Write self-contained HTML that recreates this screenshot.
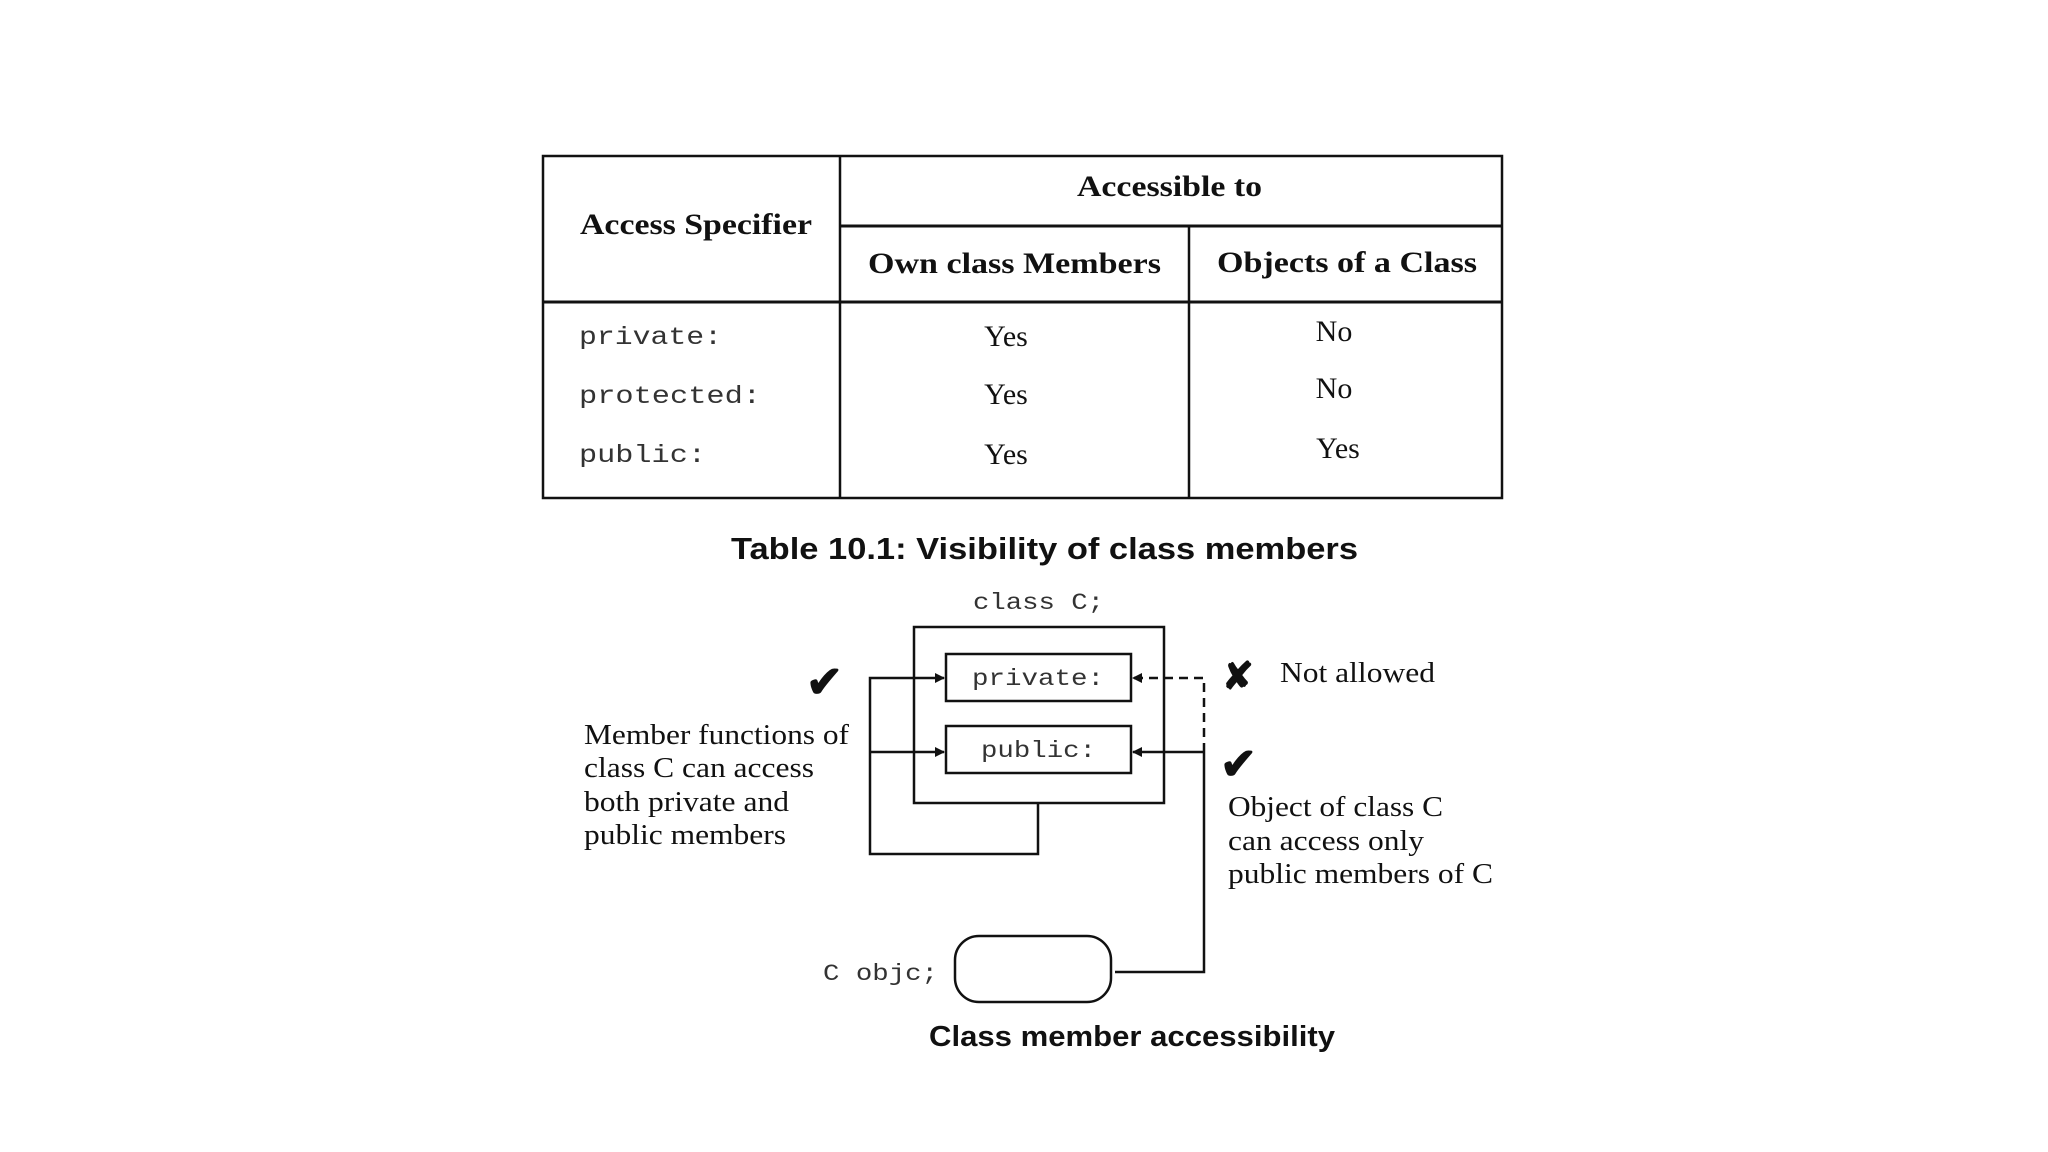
<!DOCTYPE html>
<html><head><meta charset="utf-8"><style>
html,body{margin:0;padding:0;background:#fff;}
svg{display:block;}
.t{font-family:"Liberation Serif",serif;fill:#111;}
.m{font-family:"Liberation Mono",monospace;fill:#333;}
.s{font-family:"Liberation Sans",sans-serif;font-weight:bold;fill:#111;}
</style></head><body>
<svg width="2048" height="1152" viewBox="0 0 2048 1152" xmlns="http://www.w3.org/2000/svg">
<defs><marker id="a" markerWidth="10" markerHeight="10" refX="9" refY="5" orient="auto" markerUnits="userSpaceOnUse"><path d="M0,0 L10,5 L0,10z" fill="#111"/></marker></defs>
<g stroke="#111" fill="none" stroke-width="2.5">
<rect x="543" y="156" width="959" height="342"/>
<line x1="840" y1="156" x2="840" y2="498"/>
<line x1="1189" y1="226" x2="1189" y2="498"/>
<line x1="840" y1="226" x2="1502" y2="226" stroke-width="3"/>
<line x1="543" y1="302" x2="1502" y2="302" stroke-width="3"/>
</g>
<g class="t" font-weight="bold" font-size="30" lengthAdjust="spacingAndGlyphs">
<text x="580" y="234" textLength="232" lengthAdjust="spacingAndGlyphs">Access Specifier</text>
<text x="1077" y="196" textLength="185" lengthAdjust="spacingAndGlyphs">Accessible to</text>
<text x="868" y="273" textLength="293" lengthAdjust="spacingAndGlyphs">Own class Members</text>
<text x="1217" y="272" textLength="260" lengthAdjust="spacingAndGlyphs">Objects of a Class</text>
</g>
<g class="m" font-size="25">
<text x="579" y="344" textLength="143" lengthAdjust="spacingAndGlyphs">private:</text>
<text x="579" y="403" textLength="182" lengthAdjust="spacingAndGlyphs">protected:</text>
<text x="579" y="462" textLength="127" lengthAdjust="spacingAndGlyphs">public:</text>
</g>
<g class="t" font-size="30" text-anchor="middle">
<text x="1006" y="346">Yes</text><text x="1006" y="404">Yes</text><text x="1006" y="464">Yes</text>
<text x="1334" y="341">No</text><text x="1334" y="398">No</text><text x="1338" y="458">Yes</text>
</g>
<text class="s" x="731" y="559" font-size="31" textLength="627" lengthAdjust="spacingAndGlyphs">Table 10.1:  Visibility of class members</text>

<text class="m" x="973" y="609" font-size="23" textLength="131" lengthAdjust="spacingAndGlyphs">class C;</text>
<g stroke="#111" fill="none" stroke-width="2.5">
<rect x="914" y="627" width="250" height="176"/>
<rect x="946" y="654" width="185" height="47"/>
<rect x="946" y="726" width="185" height="47"/>
<rect x="955" y="936" width="156" height="66" rx="24"/>
<polyline points="1038,803 1038,854 870,854 870,678 944,678" marker-end="url(#a)"/>
<line x1="870" y1="752" x2="944" y2="752" marker-end="url(#a)"/>
<polyline points="1204,752 1204,972 1115,972"/>
<line x1="1204" y1="752" x2="1133" y2="752" marker-end="url(#a)"/>
<polyline points="1204,752 1204,678 1133,678" stroke-dasharray="9,6" marker-end="url(#a)"/>
</g>
<g class="m" font-size="23">
<text x="972" y="685" textLength="132" lengthAdjust="spacingAndGlyphs">private:</text>
<text x="981" y="757" textLength="115" lengthAdjust="spacingAndGlyphs">public:</text>
<text x="823" y="980" textLength="115" lengthAdjust="spacingAndGlyphs">C objc;</text>
</g>
<g class="t" font-size="44" font-weight="bold">
<text x="806" y="697">✔</text>
<text x="1220" y="779">✔</text>
<text x="1222" y="689" font-size="38">✘</text>
</g>
<g class="t" font-size="28">
<text x="1280" y="682" textLength="155" lengthAdjust="spacingAndGlyphs">Not allowed</text>
<text x="584" y="744" textLength="265" lengthAdjust="spacingAndGlyphs">Member functions of</text>
<text x="584" y="777" textLength="230" lengthAdjust="spacingAndGlyphs">class C can access</text>
<text x="584" y="811" textLength="205" lengthAdjust="spacingAndGlyphs">both private and</text>
<text x="584" y="844" textLength="202" lengthAdjust="spacingAndGlyphs">public members</text>
<text x="1228" y="816" textLength="215" lengthAdjust="spacingAndGlyphs">Object of class C</text>
<text x="1228" y="850" textLength="196" lengthAdjust="spacingAndGlyphs">can access only</text>
<text x="1228" y="883" textLength="265" lengthAdjust="spacingAndGlyphs">public members of C</text>
</g>
<text class="s" x="929" y="1046" font-size="29" textLength="406" lengthAdjust="spacingAndGlyphs">Class member accessibility</text>
</svg>
</body></html>
